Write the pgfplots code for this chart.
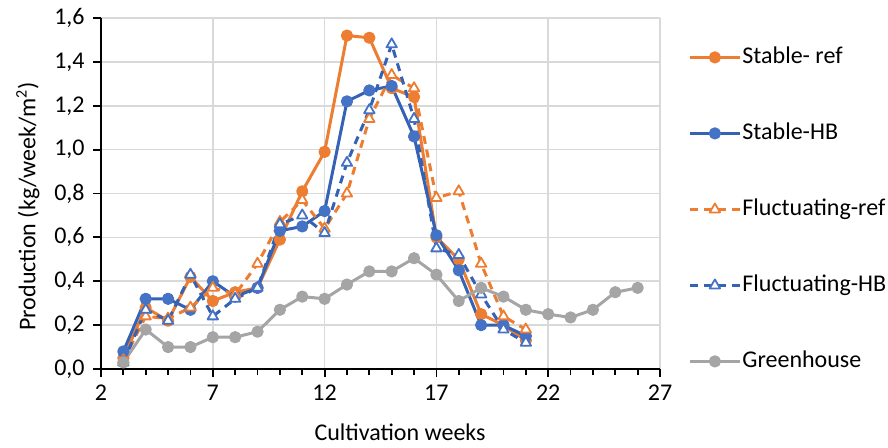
\documentclass[border=0pt]{standalone}
\usepackage{pgfplots}
\pgfplotsset{compat=1.18}
\usepackage{fontspec}
\setmainfont{Carlito}
\definecolor{cor}{HTML}{ED7D31}
\definecolor{cbl}{HTML}{4472C4}
\definecolor{cbld}{HTML}{3562B4}
\definecolor{cgr}{HTML}{A5A5A5}
\definecolor{cgrid}{HTML}{D9D9D9}
\begin{document}
\fontsize{12}{14}\selectfont
\begin{tikzpicture}
\path[use as bounding box] (-50.5pt,-39pt) rectangle (393.5pt,184.5pt);
\begin{axis}[
  scale only axis, width=279.5pt, height=175.5pt,
  xmin=2, xmax=27, ymin=0, ymax=1.6,
  xtick={2,7,12,17,22,27},
  minor xtick={3,4,5,6,8,9,10,11,13,14,15,16,18,19,20,21,23,24,25,26},
  ytick={0,0.2,0.4,0.6,0.8,1.0,1.2,1.4,1.6},
  axis x line*=bottom, axis y line*=left,
  axis line style={black, line width=0.9pt},
  tick align=outside,
  major tick length=4pt, minor tick length=3pt,
  tick style={black, line width=0.9pt},
  xmajorgrids, ymajorgrids,
  major grid style={cgrid, line width=0.8pt},
  /pgf/number format/assume math mode=true,
  yticklabel style={/pgf/number format/.cd, fixed, fixed zerofill, precision=1, use comma, assume math mode=true},
  xticklabel style={/pgf/number format/assume math mode=true},
  xlabel={Cultivation weeks},
  ylabel={Production (kg/week/m\textsuperscript{2})},
  every axis x label/.style={at={(axis description cs:0.535,-0.18)}, anchor=center},
  every axis y label/.style={at={(axis description cs:-0.131,0.464)}, anchor=center, rotate=90},
  legend cell align=left,
  legend style={at={(rel axis cs:1,1)}, anchor=north west, xshift=14pt, yshift=-13.5pt,
    draw=none, fill=none, inner sep=0pt, row sep=26pt,
    nodes={inner sep=0pt, text height=9pt, text depth=3pt},
    /tikz/every odd column/.append style={column sep=0.5pt}},
  legend image code/.code={\draw[mark repeat=2,mark phase=2,#1] plot coordinates {(0pt,0pt)(12.5pt,0pt)(25pt,0pt)};},
  every axis plot/.append style={line join=round},
]
\addplot[color=cor, line width=1.5pt, mark=*, mark size=2.3pt, mark options={solid, fill=cor, draw=cor}] coordinates {
(3,0.05)(4,0.28)(5,0.22)(6,0.42)(7,0.31)(8,0.35)(9,0.37)(10,0.59)(11,0.81)(12,0.99)(13,1.52)(14,1.51)(15,1.28)(16,1.24)(17,0.60)(18,0.50)(19,0.25)(20,0.20)(21,0.13)};
\addlegendentry{Stable- ref}
\addplot[color=cbld, line width=1.5pt, mark=*, mark size=2.3pt, mark options={solid, fill=cbl, draw=cbl}] coordinates {
(3,0.08)(4,0.32)(5,0.32)(6,0.27)(7,0.40)(8,0.33)(9,0.37)(10,0.63)(11,0.65)(12,0.72)(13,1.22)(14,1.27)(15,1.29)(16,1.06)(17,0.61)(18,0.45)(19,0.20)(20,0.20)(21,0.15)};
\addlegendentry{Stable-HB}
\addplot[color=cor, line width=1.5pt, dash pattern=on 4pt off 3pt, mark=triangle*, mark size=3pt, mark options={solid, fill=white, draw=cor, line width=0.9pt}] coordinates {
(3,0.04)(4,0.24)(5,0.23)(6,0.28)(7,0.37)(8,0.34)(9,0.48)(10,0.67)(11,0.77)(12,0.64)(13,0.80)(14,1.14)(15,1.34)(16,1.28)(17,0.78)(18,0.81)(19,0.48)(20,0.24)(21,0.18)};
\addlegendentry{Fluctuating-ref}
\addplot[color=cbld, line width=1.5pt, dash pattern=on 4pt off 3pt, mark=triangle*, mark size=3pt, mark options={solid, fill=white, draw=cbl, line width=0.9pt}] coordinates {
(3,0.03)(4,0.27)(5,0.22)(6,0.43)(7,0.24)(8,0.32)(9,0.37)(10,0.66)(11,0.70)(12,0.62)(13,0.94)(14,1.18)(15,1.48)(16,1.14)(17,0.55)(18,0.52)(19,0.34)(20,0.18)(21,0.12)};
\addlegendentry{Fluctuating-HB}
\addplot[color=cgr, line width=1.5pt, mark=*, mark size=2.3pt, mark options={solid, fill=cgr, draw=cgr}] coordinates {
(3,0.03)(4,0.18)(5,0.10)(6,0.10)(7,0.145)(8,0.145)(9,0.17)(10,0.27)(11,0.33)(12,0.32)(13,0.385)(14,0.445)(15,0.445)(16,0.505)(17,0.43)(18,0.31)(19,0.37)(20,0.33)(21,0.27)(22,0.25)(23,0.235)(24,0.27)(25,0.35)(26,0.37)};
\addlegendentry{Greenhouse}
\end{axis}
\end{tikzpicture}
\end{document}
